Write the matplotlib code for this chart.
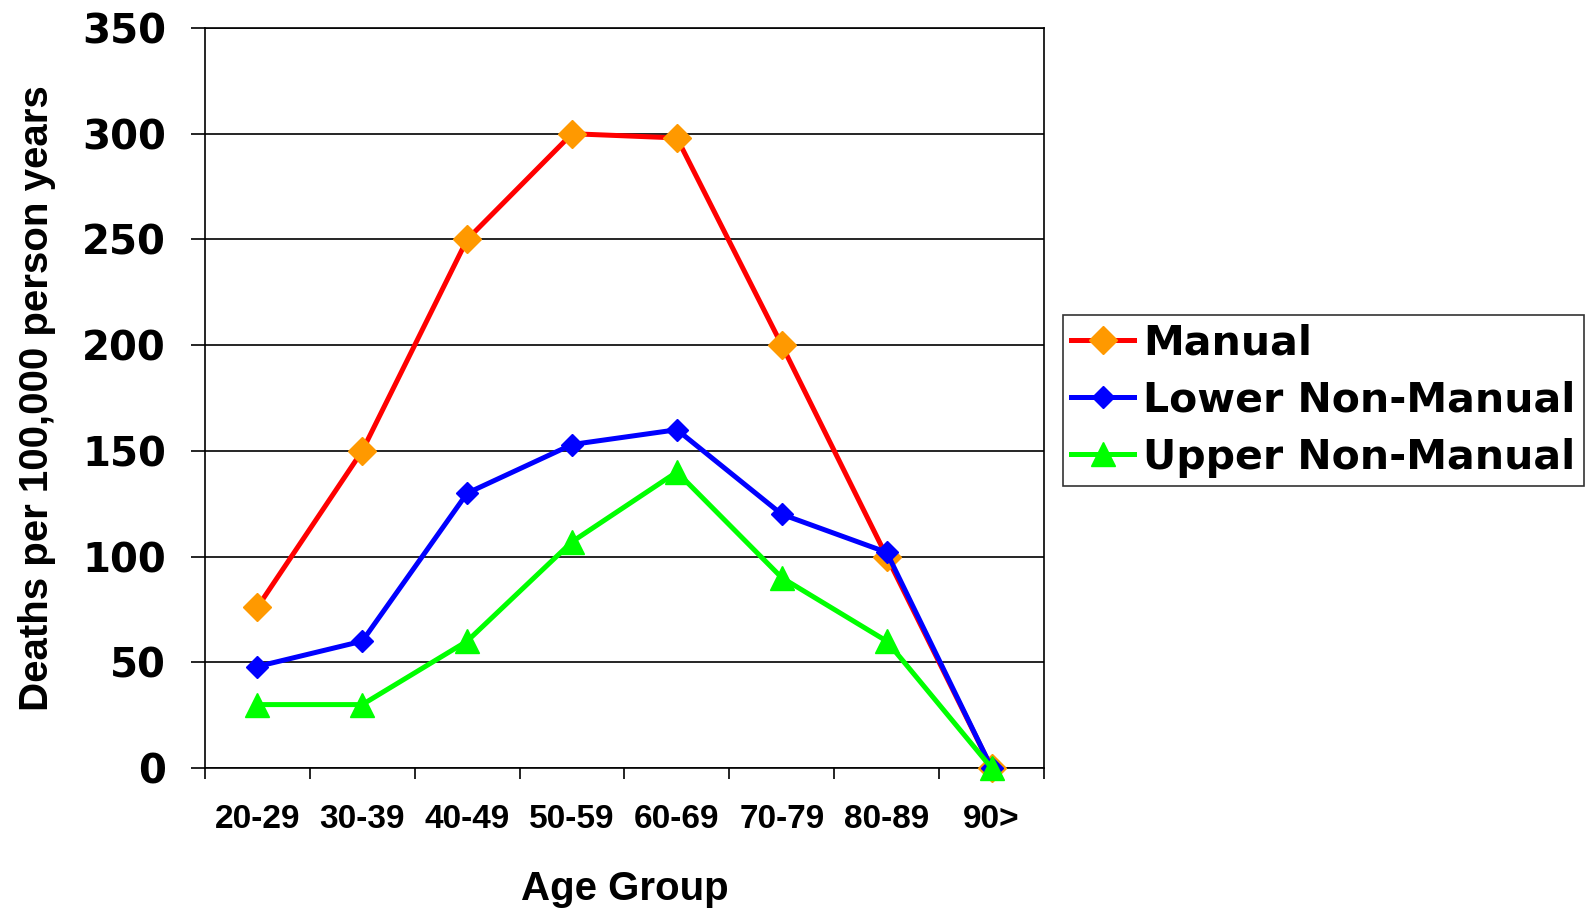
import numpy as np
import matplotlib
matplotlib.use("Agg")
import matplotlib.pyplot as plt

plt.rcParams["font.family"] = ["DejaVu Sans"]
plt.rcParams["font.weight"] = "bold"

age_groups = ["20-29", "30-39", "40-49", "50-59", "60-69", "70-79", "80-89", "90>"]
manual = [76, 150, 250, 300, 298, 200, 100, 0]
lower_non_manual = [48, 60, 130, 153, 160, 120, 102, 0]
upper_non_manual = [30, 30, 60, 107, 140, 90, 60, 0]

fig = plt.figure(figsize=(15.85, 9.09), dpi=100)
ax = fig.add_axes([0.1293, 0.1551, 0.5294, 0.8141])

x = np.arange(len(age_groups)) + 0.5

ax.plot(x, manual, color="#ff0000", lw=3.6, marker="D", ms=14,
        mfc="#ff9900", mec="#ff9900", label="Manual", zorder=3, clip_on=False)
ax.plot(x, lower_non_manual, color="#0000ff", lw=3.6, marker="D", ms=11.5,
        mfc="#0000ff", mec="#0000ff", label="Lower Non-Manual", zorder=4, clip_on=False)
ax.plot(x, upper_non_manual, color="#00ff00", lw=3.6, marker="^", ms=17,
        mfc="#00ff00", mec="#00ff00", label="Upper Non-Manual", zorder=5, clip_on=False)

ax.set_xlim(0, len(age_groups))
ax.set_ylim(0, 350)

# y axis: ticks every 50 with horizontal gridlines
ax.set_yticks(np.arange(0, 351, 50))
ax.tick_params(axis="y", length=10, width=1.2, pad=18, labelsize=29, direction="out")
ax.yaxis.grid(True, color="black", lw=1.2)
ax.set_axisbelow(True)

# x axis: ticks on group boundaries, labels centred in each group
ax.set_xticks(np.arange(0, len(age_groups) + 1))
ax.set_xticklabels([])
ax.set_xticks(x, minor=True)
ax.set_xticklabels(age_groups, minor=True, fontsize=24, fontweight="bold",
                   family="Liberation Sans")
ax.tick_params(axis="x", which="major", length=8, width=1.2, direction="out")
ax.tick_params(axis="x", which="minor", length=0, pad=26)

for spine in ax.spines.values():
    spine.set_color("black")
    spine.set_linewidth(1.2)

ax.set_ylabel("Deaths per 100,000 person years", fontsize=29, fontweight="bold",
              family="Liberation Sans")
ax.yaxis.set_label_coords(-0.178, 0.5)
ax.set_xlabel("Age Group", fontsize=29, fontweight="bold", family="Liberation Sans")
ax.xaxis.set_label_coords(0.5, -0.138)

leg = fig.legend(loc="upper left", bbox_to_anchor=(0.6705, 0.6535),
                 fontsize=29.5, frameon=True, fancybox=False, handlelength=1.55,
                 handletextpad=0.22, borderpad=0.2, labelspacing=0.42,
                 borderaxespad=0)
leg.get_frame().set_edgecolor("black")
leg.get_frame().set_linewidth(1.2)
for t in leg.get_texts():
    t.set_fontweight("bold")

fig.savefig("out.png", dpi=100)
